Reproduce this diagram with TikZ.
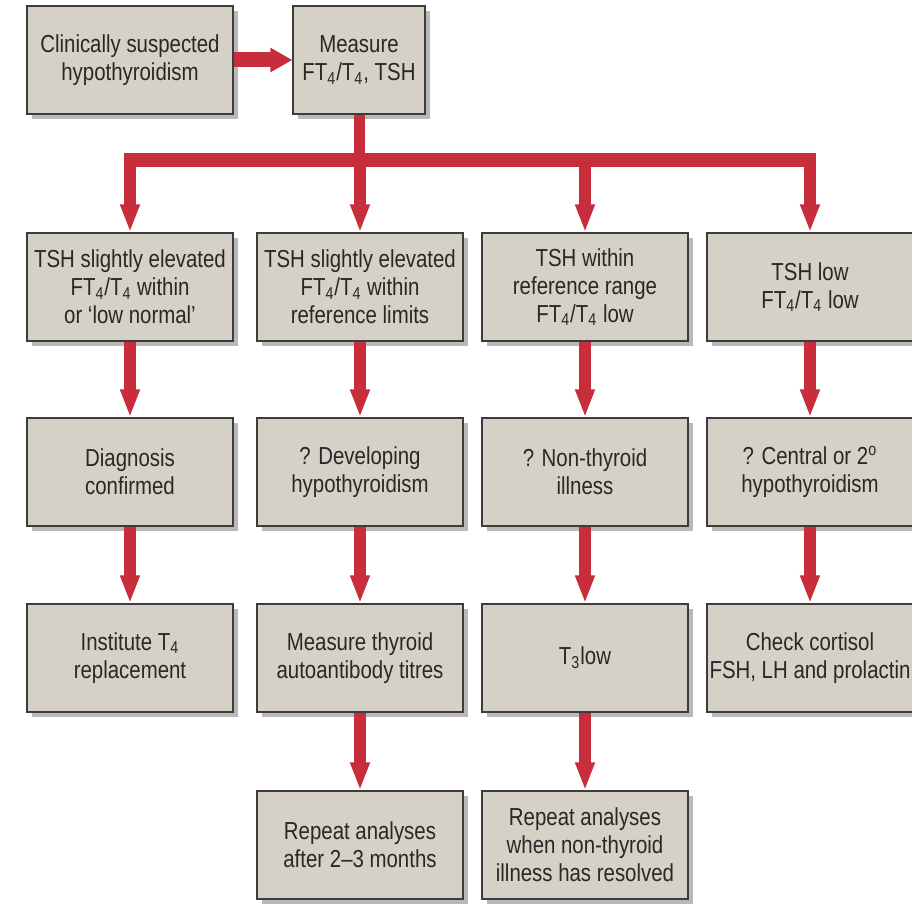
\documentclass[tikz,border=0pt]{standalone}
\usepackage{fontspec}
\setmainfont{Liberation Sans}[FakeStretch=0.83]
\usetikzlibrary{arrows.meta,shadows}
\definecolor{boxfill}{RGB}{214,209,198}
\definecolor{boxline}{RGB}{60,60,60}
\definecolor{textgrey}{RGB}{40,40,40}
\definecolor{flowred}{RGB}{200,45,60}
\tikzset{
  box/.style={draw=boxline, line width=0.6pt, fill=boxfill, text=textgrey,
    minimum width=103pt, minimum height=54pt, inner sep=0pt, align=center,
    font=\fontsize{12.3}{14}\selectfont,
    drop shadow={shadow xshift=2.5pt, shadow yshift=-2.5pt, fill=black!50, opacity=0.55}},
  flow/.style={draw=flowred, line width=6pt, -{Triangle[width=9pt,length=14pt]}},
  trunk/.style={draw=flowred, line width=7pt},
}

\begin{document}
\begin{tikzpicture}[x=0.5pt,y=-0.5pt]
  \useasboundingbox (0,0) rectangle (912,904);

  \draw (130,60) node[box] (susp) {Clinically suspected\\hypothyroidism};
  \draw (359,60) node[box, minimum width=66pt] (meas) {Measure\\FT\textsubscript{4}/T\textsubscript{4}, TSH};

  \draw (130,287) node[box] (elev) {TSH slightly elevated\\FT\textsubscript{4}/T\textsubscript{4} within\\or `low normal'};
  \draw (360,287) node[box] (elevref) {TSH slightly elevated\\FT\textsubscript{4}/T\textsubscript{4} within\\reference limits};
  \draw (585,287) node[box] (nonthy) {TSH within\\reference range\\FT\textsubscript{4}/T\textsubscript{4} low};
  \draw (810,287) node[box] (low) {TSH low\\FT\textsubscript{4}/T\textsubscript{4} low};

  \draw (130,472) node[box] (conf) {Diagnosis\\confirmed};
  \draw (360,472) node[box] (devel) {? Developing\\hypothyroidism};
  \draw (585,472) node[box] (illn) {? Non-thyroid\\illness};
  \draw (810,472) node[box] (centr) {? Central or 2\textsuperscript{o}\\hypothyroidism};

  \draw (130,658) node[box] (inst) {Institute T\textsubscript{4}\\replacement};
  \draw (360,658) node[box] (anti) {Measure thyroid\\autoantibody titres};
  \draw (585,658) node[box] (tlow) {T\textsubscript{3}low};
  \draw (810,658) node[box] (cort) {Check cortisol\\FSH, LH and prolactin};

  \draw (360,845) node[box] (rep) {Repeat analyses\\after 2--3 months};
  \draw (585,845) node[box] (repnt) {Repeat analyses\\when non-thyroid\\illness has resolved};

  \draw[draw=flowred, line width=7.5pt, -{Triangle[width=11.5pt,length=11pt]}] (susp) -- (meas);

  % branch to the four cases
  \coordinate (bar) at (0,160);
  \draw[trunk, line width=5.5pt] (meas.south) -- (meas.south |- bar);
  \draw[trunk] ([xshift=-3pt]elev.north |- bar) -- ([xshift=3pt]low.north |- bar);
  \foreach \n in {elev,elevref,nonthy,low}
    \draw[flow] (\n.north |- bar) -- (\n.north);

  \draw[flow] (elev) -- (conf);
  \draw[flow] (conf) -- (inst);
  \draw[flow] (elevref) -- (devel);
  \draw[flow] (devel) -- (anti);
  \draw[flow] (anti) -- (rep);
  \draw[flow] (nonthy) -- (illn);
  \draw[flow] (illn) -- (tlow);
  \draw[flow] (tlow) -- (repnt);
  \draw[flow] (low) -- (centr);
  \draw[flow] (centr) -- (cort);
\end{tikzpicture}
\end{document}
